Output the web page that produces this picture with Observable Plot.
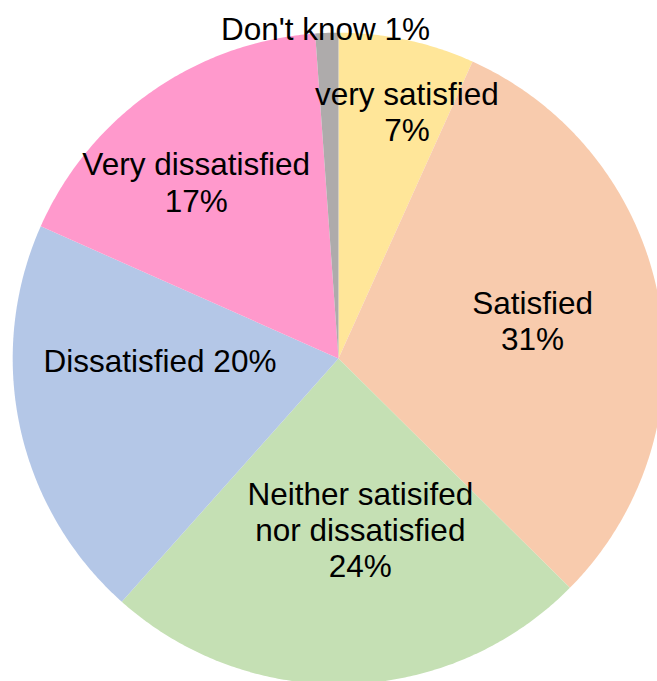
<!DOCTYPE html>
<html><head><meta charset="utf-8">
<script src="https://cdn.jsdelivr.net/npm/d3@7"></script>
<script src="https://cdn.jsdelivr.net/npm/@observablehq/plot@0.6"></script>
<style>html,body{margin:0;padding:0;background:#fff} svg{display:block}</style>
</head><body><div id="chart"></div>
<script>
// ---- data ----
const categories = ["very satisfied", "Satisfied", "Neither satisifed nor dissatisfied", "Dissatisfied", "Very dissatisfied", "Don't know"];
const values = [6.75, 30.68, 24.15, 20.07, 17.21, 1.14]; // percent
const labelNames = ["very satisfied", "Satisfied", "Neither satisifed\nnor dissatisfied", "Dissatisfied", "Very dissatisfied", "Don't know"];
const labelSeparators = ["\n", "\n", "\n", " ", "\n", " "];
const colors = ["#FFE699", "#F8CBAD", "#C5E0B4", "#B4C7E7", "#FF99CC", "#AEABAB"];

// ---- layout (label placement relative to slice mid-angle) ----
const labelAngleShift = [3.3, -0.6, -5.5, 11.5, -3.8, -0.2]; // degrees
const labelRadius = [0.788, 0.607, 0.529, 0.548, 0.696, 1.014]; // fraction of radius

const total = d3.sum(values);
const toRad = Math.PI / 180;
const slicePoints = [];
const labels = [];
let cum = 0;
values.forEach((v, i) => {
  const a0 = cum / total * 360;
  const a1 = (cum + v) / total * 360;
  cum += v;
  const pts = [[0, 0]];
  const n = Math.max(2, Math.ceil((a1 - a0) / 0.5));
  for (let k = 0; k <= n; k++) {
    const a = (a0 + (a1 - a0) * k / n) * toRad;
    pts.push([Math.sin(a), Math.cos(a)]);
  }
  pts.push([0, 0]);
  pts.forEach(([x, y]) => slicePoints.push({cat: categories[i], x, y}));
  const am = ((a0 + a1) / 2 + labelAngleShift[i]) * toRad;
  labels.push({
    text: labelNames[i] + labelSeparators[i] + Math.round(v / total * 100) + "%",
    x: labelRadius[i] * Math.sin(am),
    y: labelRadius[i] * Math.cos(am)
  });
});

const W = 657, H = 681, cx = 338, cy = 358, R = 325.8;
const chart = Plot.plot({
  width: W,
  height: H,
  margin: 0,
  x: {axis: null, domain: [-cx / R, (W - cx) / R]},
  y: {axis: null, domain: [-(H - cy) / R, cy / R]},
  color: {domain: categories, range: colors},
  style: {fontFamily: "'Liberation Sans', Arial, sans-serif", background: "#fff"},
  marks: [
    Plot.line(slicePoints, {x: "x", y: "y", z: "cat", fill: "cat", stroke: null, curve: "linear"}),
    Plot.text(labels, {x: "x", y: "y", text: "text", fontSize: 31.5, lineHeight: 1.15, fill: "#000"})
  ]
});
document.getElementById("chart").appendChild(chart);
</script>
</body></html>
